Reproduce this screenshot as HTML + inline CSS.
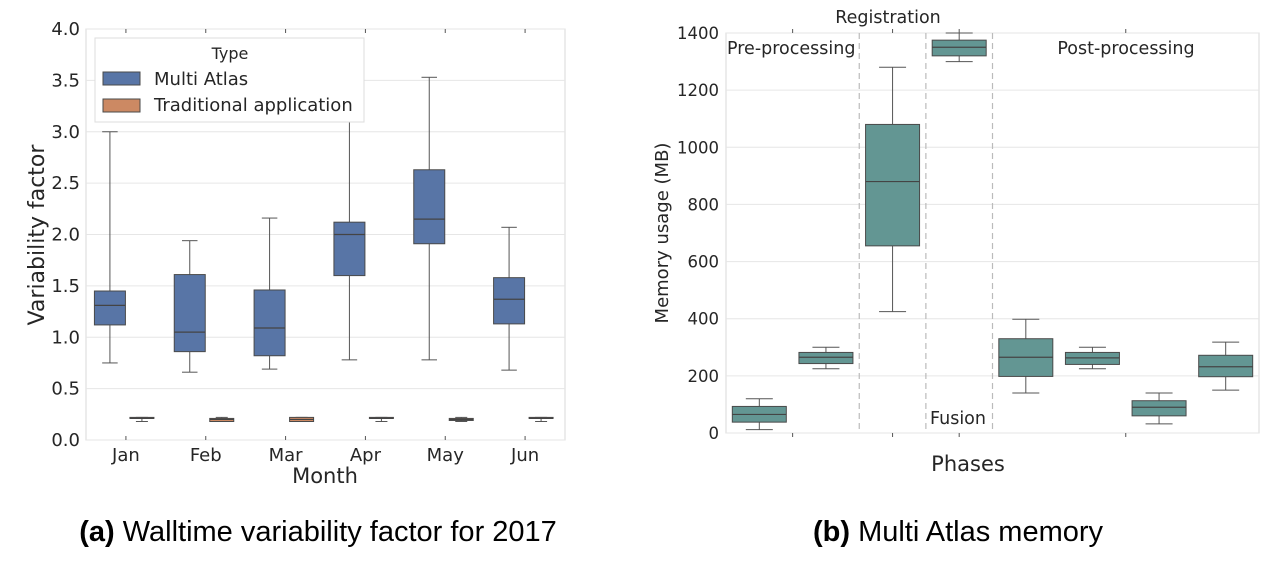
<!DOCTYPE html>
<html><head><meta charset="utf-8">
<style>
body{margin:0;background:#fff;width:1274px;height:572px;overflow:hidden;font-family:"Liberation Sans","DejaVu Sans",sans-serif;}
svg text{font-family:"DejaVu Sans","Liberation Sans",sans-serif;fill:#262626;}
.cap{font-family:"Liberation Sans",sans-serif;fill:#000;}
</style></head>
<body>
<svg id="s" width="1274" height="572" viewBox="0 0 1274 572" xmlns="http://www.w3.org/2000/svg">
<text class="cap" x="318" y="541" font-size="29" text-anchor="middle"><tspan font-weight="bold">(a)</tspan> Walltime variability factor for 2017</text>
<text class="cap" x="958" y="541" font-size="29" text-anchor="middle"><tspan font-weight="bold">(b)</tspan> Multi Atlas memory</text>
</svg>
<script>
// ---- Chart A data ----
const months=["Jan","Feb","Mar","Apr","May","Jun"];
const multiLo=[0.75,0.66,0.69,0.78,0.78,0.68];
const multiQ1=[1.12,0.86,0.82,1.60,1.91,1.13];
const multiMed=[1.31,1.05,1.09,2.00,2.15,1.37];
const multiQ3=[1.45,1.61,1.46,2.12,2.63,1.58];
const multiHi=[3.00,1.94,2.16,3.30,3.53,2.07];
const tradLo=[0.18,0.18,0.18,0.18,0.18,0.18];
const tradQ1=[0.21,0.18,0.18,0.21,0.19,0.21];
const tradMed=[0.21,0.20,0.20,0.21,0.20,0.21];
const tradQ3=[0.22,0.21,0.22,0.22,0.21,0.22];
const tradHi=[0.22,0.22,0.22,0.22,0.22,0.22];
const aTicks=[0,0.5,1,1.5,2,2.5,3,3.5,4];
// ---- Chart B data ----
const bLo=[12,225,425,1300,140,225,32,150];
const bQ1=[38,243,655,1320,198,240,60,197];
const bMed=[65,265,880,1350,265,263,90,232];
const bQ3=[93,282,1080,1375,330,282,113,272];
const bHi=[120,300,1280,1400,398,300,140,318];
const bTicks=[0,200,400,600,800,1000,1200,1400];

const s=document.getElementById('s');
const NS="http://www.w3.org/2000/svg";
function mk(t,a,parent){const e=document.createElementNS(NS,t);for(const k in a)e.setAttribute(k,a[k]);(parent||s).appendChild(e);return e;}

// ----- Chart A -----
const A={x0:86,x1:565,y0:440,y1:29};
const ay=v=>A.y0-(v/4)*(A.y0-A.y1);
const pitch=(A.x1-A.x0)/months.length;
const ax=i=>A.x0+pitch*(i+0.5);
const gA=mk('g',{});


mk('rect',{x:A.x0,y:A.y1,width:A.x1-A.x0,height:A.y0-A.y1,fill:'none',stroke:'#d9d9d9','stroke-width':1},gA);
aTicks.forEach(v=>{
  const l=mk('line',{x1:A.x0,x2:A.x1,y1:ay(v),y2:ay(v),stroke:'#e6e6e6','stroke-width':1},gA);
  
  
  const t=mk('text',{x:A.x0-6,y:ay(v)+6,'font-size':18,'text-anchor':'end'},gA);
  t.textContent=v.toFixed(1);
  
  
});
function box(g,cx,w,lo,q1,med,q3,hi,yf,fill,name){
  const gg=mk('g',{},g);
  
  
  mk('line',{x1:cx,x2:cx,y1:yf(hi),y2:yf(q3),stroke:'#555','stroke-width':1},gg);
  mk('line',{x1:cx,x2:cx,y1:yf(q1),y2:yf(lo),stroke:'#555','stroke-width':1},gg);
  mk('line',{x1:cx-w/4,x2:cx+w/4,y1:yf(hi),y2:yf(hi),stroke:'#555','stroke-width':1},gg);
  mk('line',{x1:cx-w/4,x2:cx+w/4,y1:yf(lo),y2:yf(lo),stroke:'#555','stroke-width':1},gg);
  mk('rect',{x:cx-w/2,y:yf(q3),width:w,height:Math.max(1,yf(q1)-yf(q3)),fill:fill,stroke:'#4a4a4a','stroke-width':1},gg);
  mk('line',{x1:cx-w/2,x2:cx+w/2,y1:yf(med),y2:yf(med),stroke:'#444','stroke-width':1.2},gg);
}
months.forEach((m,i)=>{
  const c=ax(i);
  box(gA,c-16,31,multiLo[i],multiQ1[i],multiMed[i],multiQ3[i],multiHi[i],ay,'#5875a6','box-multi-'+m.toLowerCase());
  box(gA,c+16,24,tradLo[i],tradQ1[i],tradMed[i],tradQ3[i],tradHi[i],ay,'#cc8963','box-trad-'+m.toLowerCase());
  mk('line',{x1:c,x2:c,y1:A.y0,y2:A.y0-4,stroke:'#555'},gA);
  mk('line',{x1:c,x2:c,y1:A.y1,y2:A.y1+4,stroke:'#555'},gA);
  const t=mk('text',{x:c,y:A.y0+21,'font-size':18,'text-anchor':'middle'},gA);
  t.textContent=m;
  
  
});
// legend
const lg=mk('g',{},gA);


mk('rect',{x:95,y:38,width:269,height:84,fill:'#fff',stroke:'#ddd'},lg);
mk('text',{x:230,y:59,'font-size':16,'text-anchor':'middle'},lg).textContent='Type';
mk('rect',{x:103,y:72,width:37,height:13,fill:'#5875a6',stroke:'#4a4a4a'},lg);
mk('text',{x:154,y:85,'font-size':18},lg).textContent='Multi Atlas';
mk('rect',{x:103,y:99,width:37,height:13,fill:'#cc8963',stroke:'#4a4a4a'},lg);
mk('text',{x:154,y:111,'font-size':18},lg).textContent='Traditional application';
const ylA=mk('text',{x:44,y:235,'font-size':22,'text-anchor':'middle',transform:'rotate(-90 44 235)'},gA);
ylA.textContent='Variability factor';


const xlA=mk('text',{x:325,y:483,'font-size':21,'text-anchor':'middle'},gA);
xlA.textContent='Month';



// ----- Chart B -----
const B={x0:726,x1:1259,y0:433,y1:33};
const by=v=>B.y0-(v/1400)*(B.y0-B.y1);
const bp=(B.x1-B.x0)/bLo.length;
const bx=i=>B.x0+bp*(i+0.5);
const gB=mk('g',{});


mk('rect',{x:B.x0,y:B.y1,width:B.x1-B.x0,height:B.y0-B.y1,fill:'none',stroke:'#d9d9d9'},gB);
bTicks.forEach(v=>{
  const l=mk('line',{x1:B.x0,x2:B.x1,y1:by(v),y2:by(v),stroke:'#e6e6e6'},gB);
  
  
  const t=mk('text',{x:B.x0-7,y:by(v)+6,'font-size':16.5,'text-anchor':'end'},gB);
  t.textContent=v;
  
  
});
[[0,1],[2,2],[3,3],[4,7]].forEach(([a,b])=>{
  const c=(bx(a)+bx(b))/2;
  mk('line',{x1:c,x2:c,y1:B.y0,y2:B.y0+4,stroke:'#555'},gB);
  mk('line',{x1:c,x2:c,y1:B.y1,y2:B.y1-4,stroke:'#555'},gB);
});
[2,3,4].forEach(i=>{
  const x=bx(i)-bp/2;
  const d=mk('line',{x1:x,x2:x,y1:B.y1,y2:B.y0,stroke:'#bbb','stroke-dasharray':'6,4','stroke-width':1.2},gB);
  
  
});
bLo.forEach((v,i)=>{
  box(gB,bx(i),54,bLo[i],bQ1[i],bMed[i],bQ3[i],bHi[i],by,'#639693','box-phase-'+(i+1));
});
const lbl=(t,x,y,a,n)=>{const e=mk('text',{x:x,y:y,'font-size':17.5,'text-anchor':a},gB);e.textContent=t;};
lbl('Registration',888,23,'middle','label-registration');
lbl('Pre-processing',727,54,'start','label-preprocessing');
lbl('Post-processing',1126,54,'middle','label-postprocessing');
lbl('Fusion',958,424,'middle','label-fusion');
const ylB=mk('text',{x:668,y:233,'font-size':18,'text-anchor':'middle',transform:'rotate(-90 668 233)'},gB);
ylB.textContent='Memory usage (MB)';


const xlB=mk('text',{x:968,y:471,'font-size':21,'text-anchor':'middle'},gB);
xlB.textContent='Phases';


</script>
</body></html>
